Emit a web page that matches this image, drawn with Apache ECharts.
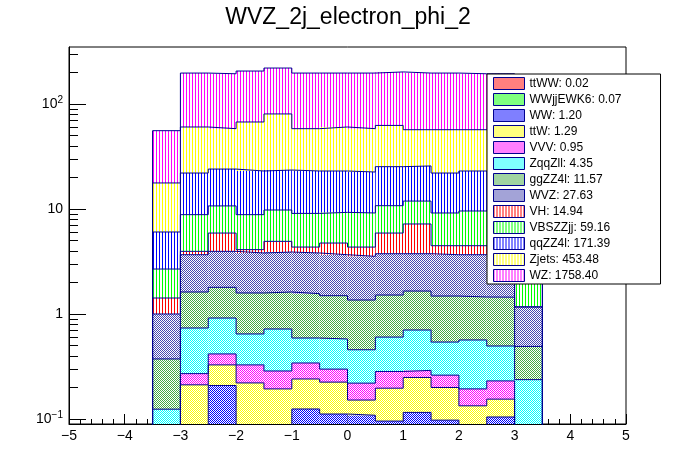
<!DOCTYPE html>
<html lang="en">
<head>
  <meta charset="UTF-8">
  <title>WVZ_2j_electron_phi_2</title>
  <style>
    html, body { margin: 0; padding: 0; background: #fff; }
    #main { width: 696px; height: 472px; }
  </style>
</head>
<body>
  <div id="main"></div>
  <script src="https://cdn.jsdelivr.net/npm/echarts@6/dist/echarts.min.js"></script>
  <script>
    // bins of electron phi, width 0.5 (only -3.5 .. 3.5 are filled)
    const binLow = [-3.5, -3.0, -2.5, -2.0, -1.5, -1.0, -0.5, 0.0, 0.5, 1.0, 1.5, 2.0, 2.5, 3.0];
    const binWidth = 0.5;

    // stack order: bottom -> top (same order as the legend, top -> bottom)
    const processes = ['ttWW', 'WWjjEWK6', 'WW', 'ttW', 'VVV', 'ZqqZll', 'ggZZ4l', 'WVZ', 'VH', 'VBSZZjj', 'qqZZ4l', 'Zjets', 'WZ'];
    const totals = ['0.02', '0.07', '1.20', '1.29', '0.95', '4.35', '11.57', '27.63', '14.94', '59.16', '171.39', '453.48', '1758.40'];

    const ttWW     = [0.001, 0.0015, 0.0015, 0.0015, 0.0015, 0.0015, 0.0015, 0.0015, 0.0015, 0.0015, 0.0015, 0.0015, 0.0015, 0.001];
    const WWjjEWK6 = [0.003, 0.005, 0.006, 0.005, 0.005, 0.006, 0.005, 0.005, 0.006, 0.005, 0.005, 0.005, 0.006, 0.003];
    const WW       = [0.024, 0.014, 0.201, 0.024, 0.024, 0.117, 0.105, 0.102, 0.088, 0.109, 0.091, 0.024, 0.097, 0.024];
    const ttW      = [0.02, 0.191, 0.119, 0.19, 0.163, 0.116, 0.113, 0.043, 0.101, 0.133, 0.102, 0.103, 0.05, 0.02];
    const VVV      = [0.02, 0.059, 0.089, 0.107, 0.093, 0.101, 0.074, 0.068, 0.087, 0.042, 0.062, 0.06, 0.076, 0.02];
    const ZqqZll   = [0.056, 0.465, 0.499, 0.318, 0.433, 0.249, 0.279, 0.237, 0.319, 0.413, 0.279, 0.372, 0.265, 0.169];
    const ggZZ4l   = [0.249, 0.884, 0.879, 0.94, 0.9, 0.971, 0.916, 0.902, 0.913, 0.95, 0.942, 0.886, 0.95, 0.254];
    const WVZ      = [0.627, 2.051, 2.156, 2.225, 2.271, 2.249, 2.176, 2.181, 2.234, 2.096, 2.187, 2.219, 2.255, 0.675];
    const VH       = [0.42, 0.28, 1.95, 0.29, 1.03, 0.53, 1.07, 0.8, 2.15, 3.45, 0.8, 0.8, 0.6, 0.004];
    const VBSZZjj  = [1.26, 4.88, 4.8, 4.73, 4.86, 4.74, 4.55, 4.82, 4.85, 4.7, 4.69, 5.1, 5.2, 1.43];
    const qqZZ4l   = [3.36, 13.17, 13.3, 14.17, 13.72, 13.92, 13.71, 13.34, 14.55, 13.8, 12.84, 13.43, 13.5, 3.4];
    const Zjets    = [11.66, 38.4, 34.2, 44.4, 56.9, 35.2, 37.4, 35.7, 37.2, 31.2, 34.9, 33.9, 34.0, 11.5];
    const WZ       = [38.0, 136.6, 135.8, 138.6, 139.6, 138.8, 136.6, 138.8, 139.5, 140.1, 140.1, 137.1, 137.0, 36.5];

    const values = [ttWW, WWjjEWK6, WW, ttW, VVV, ZqqZll, ggZZ4l, WVZ, VH, VBSZZjj, qqZZ4l, Zjets, WZ];

    // log y axis minor ticks
    const yMinorTicks = [0.2, 0.3, 0.4, 0.5, 0.6, 0.7, 0.8, 0.9, 2, 3, 4, 5, 6, 7, 8, 9,
                         20, 30, 40, 50, 60, 70, 80, 90, 200, 300];

    // ---- styles (ROOT fill patterns) ----
    const navy = '#000090';
    const fontFamily = "'Liberation Sans', Arial, Helvetica, sans-serif";
    const fillColors = ['#ff0000', '#00ff00', '#0000ff', '#ffff00', '#ff00ff', '#00ffff', '#44aa44', '#4848b0',
                        '#ff0000', '#00ff00', '#0000ff', '#ffff00', '#ff00ff'];
    const fillKinds = ['checker', 'checker', 'checker', 'checker', 'checker', 'checker', 'checker', 'checker',
                       'stripes', 'stripes', 'stripes', 'stripes', 'stripes'];

    function stripes(color) {
      const c = document.createElement('canvas');
      c.width = 3; c.height = 1;
      const g = c.getContext('2d');
      g.fillStyle = '#fff'; g.fillRect(0, 0, 3, 1);
      g.fillStyle = color; g.fillRect(0, 0, 1, 1);
      return { image: c, repeat: 'repeat' };
    }
    function checker(color) {
      const c = document.createElement('canvas');
      c.width = 2; c.height = 2;
      const g = c.getContext('2d');
      g.fillStyle = '#fff'; g.fillRect(0, 0, 2, 2);
      g.fillStyle = color; g.fillRect(0, 0, 1, 1); g.fillRect(1, 1, 1, 1);
      return { image: c, repeat: 'repeat' };
    }

    const yMin = 0.0896, yMax = 349;
    const yFloor = 1e-3; // below the axis, gets clipped

    // cumulative stack
    let below = binLow.map(() => 0);
    const layers = values.map(v => {
      const lower = below.slice();
      const upper = lower.map((b, i) => b + v[i]);
      below = upper;
      return { lower, upper };
    });

    const series = [];
    processes.forEach((name, k) => {
      const fill = fillKinds[k] === 'stripes' ? stripes(fillColors[k]) : checker(fillColors[k]);
      series.push({
        name: name,
        type: 'custom',
        itemStyle: { color: fill, borderColor: navy, borderWidth: 1 },
        encode: { x: [0, 1], y: [2, 3] },
        data: binLow.map((lo, i) => [lo, lo + binWidth, layers[k].lower[i], layers[k].upper[i]]),
        renderItem: function (params, api) {
          const p0 = api.coord([api.value(0), api.value(3)]);
          const p1 = api.coord([api.value(1), Math.max(api.value(2), yFloor)]);
          const cs = params.coordSys;
          const rect = echarts.graphic.clipRectByRect(
            { x: p0[0], y: p0[1], width: p1[0] - p0[0], height: p1[1] - p0[1] },
            { x: cs.x, y: cs.y, width: cs.width, height: cs.height });
          return rect && { type: 'rect', shape: rect, style: { fill: fill } };
        },
        z: 2,
        silent: true
      });
    });

    // histogram outlines (step lines of every cumulative histogram)
    processes.forEach((name, k) => {
      const pts = [[binLow[0], yFloor]];
      binLow.forEach((lo, i) => {
        pts.push([lo, layers[k].upper[i]]);
        pts.push([lo + binWidth, layers[k].upper[i]]);
      });
      pts.push([binLow[binLow.length - 1] + binWidth, yFloor]);
      series.push({
        name: name + ' outline',
        type: 'line',
        data: pts,
        showSymbol: false,
        symbol: 'none',
        clip: true,
        lineStyle: { color: navy, width: 1 },
        z: 3,
        silent: true
      });
    });

    function supLabel(v) {
      const e = Math.round(Math.log10(v));
      if (e === 0) return '1';
      if (e === 1) return '10';
      return '10{sup|' + String(e).replace('-', '\u2212') + '}';
    }

    const chart = echarts.init(document.getElementById('main'));
    chart.setOption({
      animation: false,
      backgroundColor: '#fff',
      textStyle: { fontFamily: fontFamily },
      title: {
        text: 'WVZ_2j_electron_phi_2',
        left: 'center',
        top: 1,
        textStyle: { fontSize: 23, fontWeight: 'normal', color: '#000', fontFamily: fontFamily }
      },
      grid: {
        left: 69, right: 70, top: 47, bottom: 48,
        show: true, borderColor: '#000', borderWidth: 1, backgroundColor: 'transparent'
      },
      legend: {
        orient: 'vertical',
        left: 487, top: 74,
        data: processes,
        icon: 'rect',
        itemWidth: 31, itemHeight: 12, itemGap: 3,
        padding: [3, 39, 2, 6],
        borderColor: '#000', borderWidth: 1, borderRadius: 0,
        backgroundColor: '#fff',
        selectedMode: false,
        formatter: name => name + ': ' + totals[processes.indexOf(name)],
        itemStyle: { borderColor: navy, borderWidth: 1 },
        textStyle: { fontSize: 12, color: '#000', fontFamily: fontFamily, lineHeight: 12 }
      },
      xAxis: {
        type: 'value',
        min: -5, max: 5, interval: 1,
        axisLine: { onZero: false, lineStyle: { color: '#000', width: 1 } },
        axisTick: { inside: true, length: 10, lineStyle: { color: '#000' } },
        minorTick: { show: true, splitNumber: 5, length: 5, lineStyle: { color: '#000' } },
        axisLabel: {
          fontSize: 14, color: '#000', margin: 5,
          formatter: v => String(v).replace('-', '\u2212')
        },
        splitLine: { show: false }
      },
      yAxis: [{
        type: 'log', logBase: 10,
        min: yMin, max: yMax,
        position: 'left',
        axisLine: { show: true, onZero: false, lineStyle: { color: '#000', width: 1 } },
        axisTick: { show: true, inside: true, length: 17, lineStyle: { color: '#000' } },
        axisLabel: {
          fontSize: 14, color: '#000', margin: 6,
          showMinLabel: false, showMaxLabel: false,
          formatter: supLabel,
          rich: { sup: { fontSize: 10, color: '#000', padding: [0, 0, 8, 0] } }
        },
        splitLine: { show: false }
      }, {
        type: 'log', logBase: 10,
        min: yMin, max: yMax,
        position: 'left',
        axisLine: { show: false, onZero: false },
        axisTick: { show: true, inside: true, length: 9, customValues: yMinorTicks, lineStyle: { color: '#000' } },
        axisLabel: { show: false },
        splitLine: { show: false }
      }],
      series: series
    });
  </script>
</body>
</html>
